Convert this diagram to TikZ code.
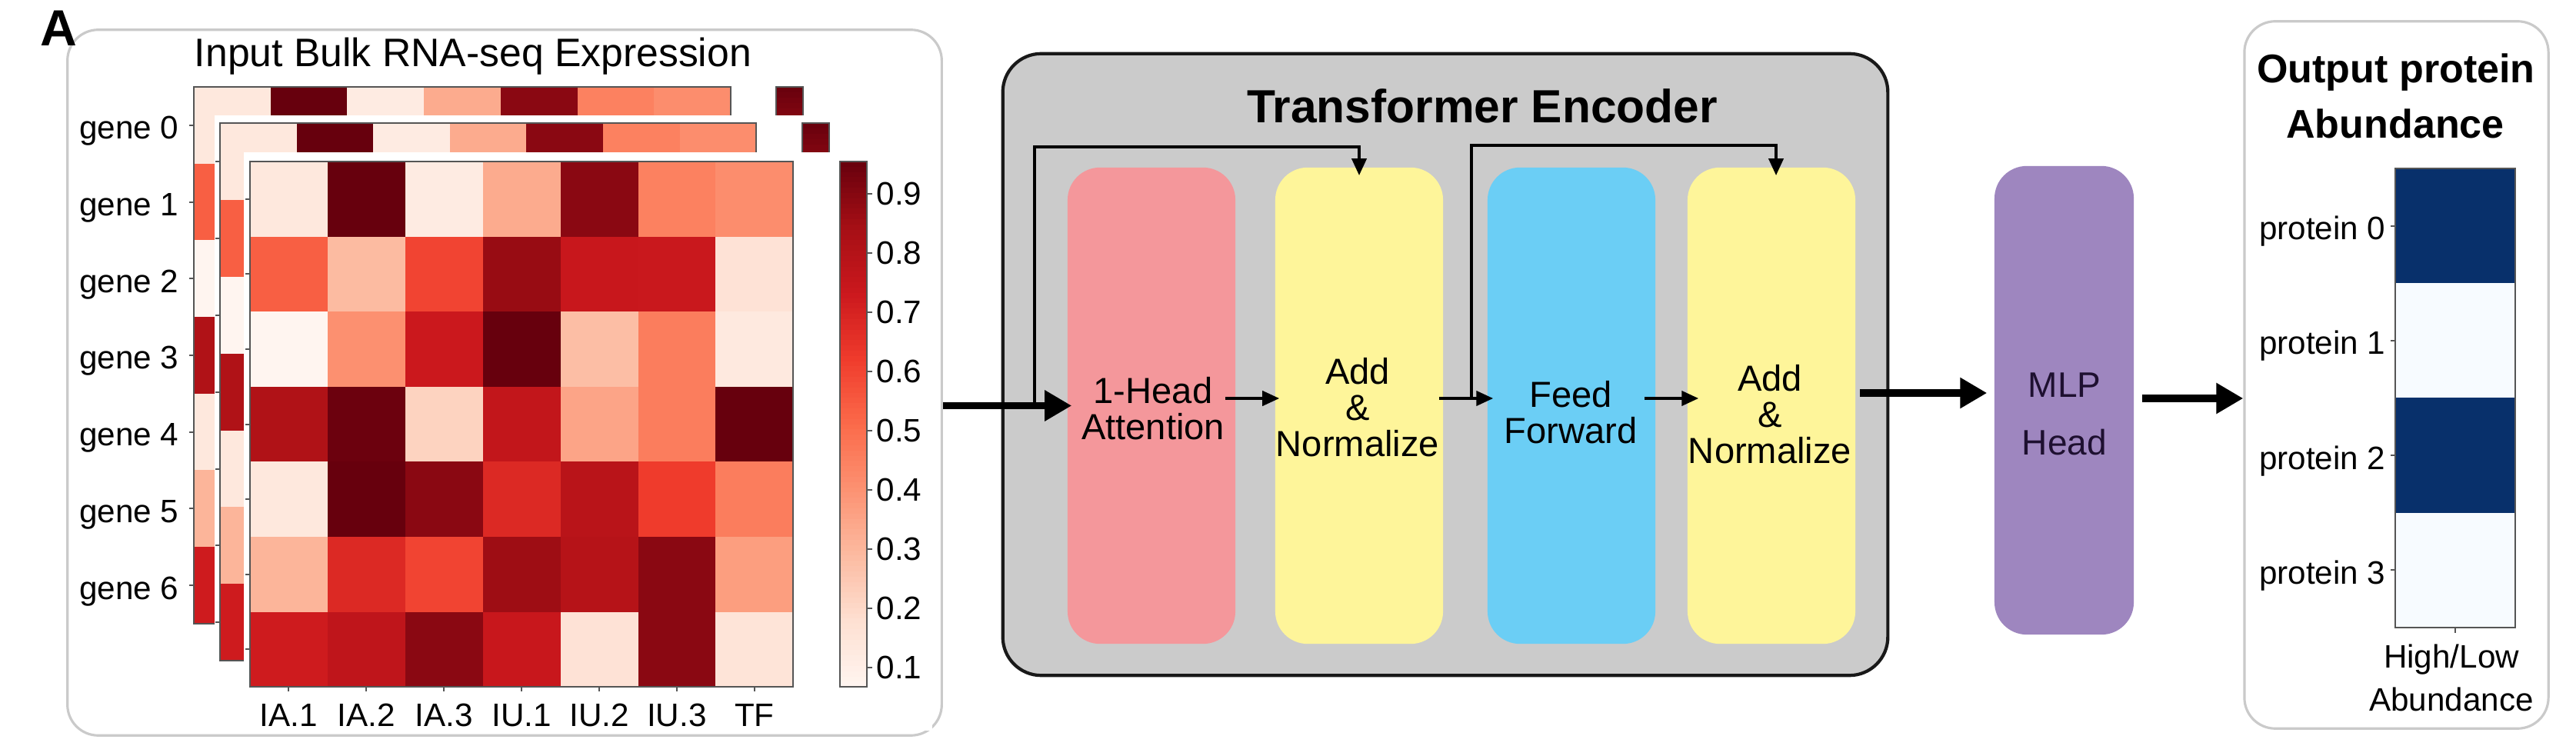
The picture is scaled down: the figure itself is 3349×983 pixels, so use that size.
\documentclass[tikz,border=0pt]{standalone}
\usepackage{fontspec}
\setmainfont{Liberation Sans}
\usetikzlibrary{arrows.meta,calc}

\definecolor{R0}{HTML}{FFF5F0}
\definecolor{R1}{HTML}{FEE0D2}
\definecolor{R2}{HTML}{FCBBA1}
\definecolor{R3}{HTML}{FC9272}
\definecolor{R4}{HTML}{FB6A4A}
\definecolor{R5}{HTML}{EF3B2C}
\definecolor{R6}{HTML}{CB181D}
\definecolor{R7}{HTML}{A50F15}
\definecolor{R8}{HTML}{67000D}
\definecolor{grayfill}{HTML}{CBCBCB}
\definecolor{pinkc}{HTML}{F4979B}
\definecolor{yelc}{HTML}{FEF59A}
\definecolor{bluec}{HTML}{6BCEF5}
\definecolor{purc}{HTML}{9E86BF}
\definecolor{navyc}{HTML}{08306B}
\definecolor{palec}{HTML}{F7FBFF}
\definecolor{framegray}{HTML}{CACACA}
\definecolor{axisgray}{HTML}{555555}
\definecolor{mlptext}{HTML}{1E1030}

\newcommand\setred[1]{%
  \pgfmathsetmacro\rdt{max(0,min(0.99999,#1))*8}%
  \pgfmathtruncatemacro\rdi{floor(\rdt)}%
  \pgfmathtruncatemacro\rdj{\rdi+1}%
  \pgfmathtruncatemacro\rdp{round((\rdt-\rdi)*100)}%
  \colorlet{cur}{R\rdj!\rdp!R\rdi}}

\def\hmdata{{0.08,1.0,0.06,0.3,0.93,0.43,0.39},{0.53,0.25,0.6,0.9,0.76,0.755,0.11},{0.0,0.38,0.75,1.0,0.24,0.44,0.07},{0.84,0.99,0.17,0.78,0.32,0.44,1.0},{0.08,1.0,0.93,0.69,0.81,0.625,0.44},{0.27,0.69,0.6,0.89,0.82,0.93,0.34},{0.74,0.79,0.93,0.76,0.11,0.93,0.1}}

% #1 x0, #2 y0, #3 cell width, #4 cell height, #5 colorbar x
\newcommand\hmlayer[5]{%
  \foreach \hrow [count=\hr from 0] in \hmdata {
    \foreach \hv [count=\hc from 0] in \hrow {
      \setred{\hv}
      \fill[cur] ({#1+\hc*#3},{#2+\hr*#4}) rectangle ({#1+(\hc+1)*#3+0.6},{#2+(\hr+1)*#4+0.6});
    }
  }
  \draw[axis] (#1,#2) rectangle ({#1+7*#3},{#2+7*#4});
  \foreach \k in {0,...,6} \draw[axis] ({#1-6},{#2+(\k+0.5)*#4}) -- (#1,{#2+(\k+0.5)*#4});
  \foreach \k in {0,...,99} {
    \setred{1-(\k+0.5)/100}
    \fill[cur] (#5,{#2+\k*0.07*#4}) rectangle ({#5+35},{#2+(\k+1)*0.07*#4+0.8});
  }
  \draw[axis] (#5,#2) rectangle ({#5+35},{#2+7*#4});
}

\begin{document}
\begin{tikzpicture}[x=0.01cm,y=-0.01cm,
  ticklab/.style={font=\fontsize{12}{14}\selectfont, inner sep=0pt},
  axis/.style={draw=axisgray, line width=0.55pt},
  panel/.style={draw=framegray, line width=0.9pt, rounded corners=0.4cm, fill=white, inner sep=0pt},
  blk/.style={rounded corners=0.42cm, minimum width=2.18cm, minimum height=6.19cm, inner sep=0pt},
  blktext/.style={align=center, inner sep=0pt, font=\fontsize{13.4}{13.4}\selectfont},
  bigarrow/.style={line width=2.7pt, -{Triangle[length=0.35cm,width=0.38cm]}},
  smallarrow/.style={line width=1.15pt, -{Triangle[length=0.22cm,width=0.19cm]}}]
\useasboundingbox (0,0) rectangle (3349,983);
\fill[white] (0,0) rectangle (3349,983);

% ---------------- Input panel ----------------
\node[panel, minimum width=11.36cm, minimum height=9.17cm] (inbox) at (656,497.5) {};
\node[font=\bfseries\fontsize{18.8}{20}\selectfont, anchor=base west, inner sep=0pt] (lblA) at (52,60) {A};
\node[font=\fontsize{14.7}{16}\selectfont, anchor=base, inner sep=0pt] (intitle) at (615,87) {Input Bulk RNA-seq Expression};

% back layer 1
\hmlayer{252}{113}{99.7}{99.7}{1009}
\foreach \k in {0,...,6}
  \node[ticklab, anchor=base east] (gene\k) at (233,{113+(\k+0.5)*99.7+18}) {gene \k};
% layer 2
\fill[white] (279,150) rectangle (1212,905);
\hmlayer{286}{160}{99.6}{99.9}{1043}
% main layer
\fill[white] (317,198) rectangle (1212,950);
\hmlayer{325}{210}{100.9}{97.6}{1092}
\foreach \lab [count=\k from 0] in {IA.1,IA.2,IA.3,IU.1,IU.2,IU.3,TF} {
  \draw[axis] ({325+(\k+0.5)*100.9},892) -- ++(0,7);
  \node[ticklab] (col\k) at ({325+(\k+0.5)*100.9},930) {\lab};
}
\foreach \v in {1,...,9} {
  \draw[axis] (1127,{252+(9-\v)*77}) -- (1134,{252+(9-\v)*77});
  \node[ticklab, anchor=west] (cb\v) at (1139,{252+(9-\v)*77}) {0.\v};
}

% ---------------- Transformer encoder ----------------
\node[draw=black!90, line width=1.2pt, fill=grayfill, rounded corners=0.5cm,
      minimum width=11.5cm, minimum height=8.08cm, inner sep=0pt] (enc) at (1879,474) {};
\node[font=\bfseries\fontsize{17.2}{18}\selectfont, anchor=base, inner sep=0pt] (enctitle) at (1927,160) {Transformer Encoder};

\node[blk, fill=pinkc] (att) at (1497,527.5) {};
\node[blk, fill=yelc] (add1) at (1767,527.5) {};
\node[blk, fill=bluec] (ff) at (2043,527.5) {};
\node[blk, fill=yelc] (add2) at (2303,527.5) {};

\node[blktext] (attT) at (1499,531) {1-Head\\Attention};
\node[blktext] (add1T) at (1765,530) {Add\\\&\\Normalize};
\node[blktext] (ffT) at (2042,536) {Feed\\Forward};
\node[blktext] (add2T) at (2301,539) {Add\\\&\\Normalize};

% input arrow
\draw[bigarrow] (inbox.east |- att.west) -- ($(att.west)+(6,0)$);
% inner arrows
\draw[smallarrow] ($(att.east)+(-14,-9.5)$) -- ($(add1.west)+(6,-9.5)$);
\draw[smallarrow] ($(add1.east)+(-6,-9.5)$) -- ($(ff.west)+(8,-9.5)$);
\draw[smallarrow] ($(ff.east)+(-15,-9.5)$) -- ($(add2.west)+(15,-9.5)$);
% skip connections
\coordinate (s1) at (1345,527.5);
\coordinate (s2) at (1913,518);
\draw[smallarrow] (s1) -- (1345,191) -| ($(add1.north)+(0,11)$);
\draw[smallarrow] (s2) -- (1913,189) -| ($(add2.north)+(6,11)$);

% ---------------- MLP head ----------------
\node[blk, fill=purc, minimum width=1.81cm, minimum height=6.09cm] (mlp) at (2683.5,520.5) {};
\node[align=center, inner sep=0pt, text=mlptext, font=\fontsize{13.1}{21.3}\selectfont] (mlpT) at (2684,538) {MLP\\Head};
\draw[bigarrow] ($(add2.east)+(5,-16.5)$) -- ($(mlp.west)+(-9,-9.5)$);

% ---------------- Output panel ----------------
\node[panel, minimum width=3.95cm, minimum height=9.19cm] (outbox) at (3115.5,487.5) {};
\draw[bigarrow] ($(mlp.east)+(10,-2.5)$) -- (outbox.west |- 0,518);
\node[font=\bfseries\fontsize{14.8}{16}\selectfont, anchor=base, inner sep=0pt] (outT1) at (3115,108) {Output protein};
\node[font=\bfseries\fontsize{14.8}{16}\selectfont, anchor=base, inner sep=0pt] (outT2) at (3114,180) {Abundance};

\foreach \k/\c in {0/navyc,1/palec,2/navyc,3/palec}
  \fill[\c] (3114,{219+\k*149.25}) rectangle (3270,{219+(\k+1)*149.25});
\draw[axis] (3114,219) rectangle (3270,816);
\foreach \k in {0,...,3} {
  \draw[axis] (3108,{219+(\k+0.5)*149.25}) -- (3114,{219+(\k+0.5)*149.25});
  \node[ticklab, anchor=base east] (prot\k) at (3102,{219+(\k+0.5)*149.25+18}) {protein \k};
}
\draw[axis] (3192,816) -- (3192,823);
\node[ticklab, anchor=base] (hl1) at (3187,868) {High/Low};
\node[ticklab, anchor=base] (hl2) at (3187,925) {Abundance};
\end{tikzpicture}
\end{document}
